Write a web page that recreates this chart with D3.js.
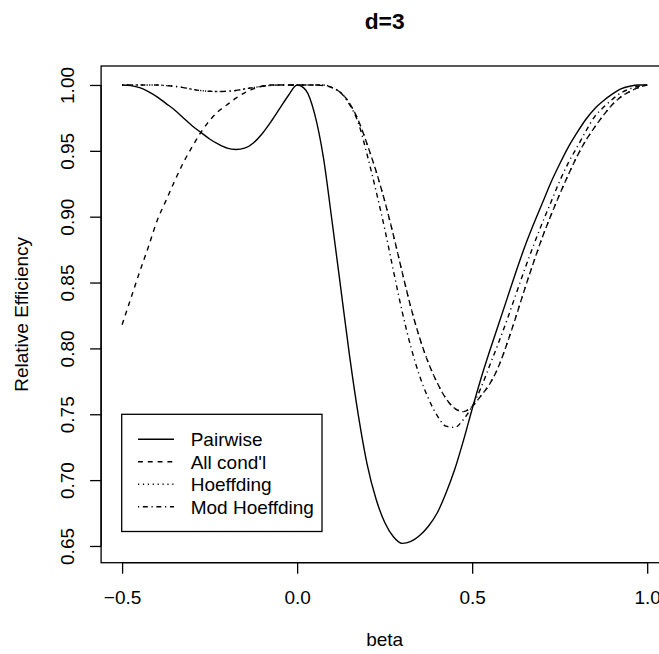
<!DOCTYPE html>
<html>
<head>
<meta charset="utf-8">
<script src="https://cdn.jsdelivr.net/npm/d3@7"></script>
<style>
  html, body { margin: 0; padding: 0; background: #fff; }
  svg { display: block; }
  text { font-family: "Liberation Sans", Arial, Helvetica, sans-serif; fill: #000; }
</style>
</head>
<body>
<svg id="chart" width="659" height="654"></svg>
<script>
// ---------------- data ----------------
const beta = [-0.5,-0.475,-0.45,-0.425,-0.4,-0.375,-0.35,-0.325,-0.3,-0.275,-0.25,-0.225,-0.2,-0.175,-0.15,-0.125,-0.1,-0.075,-0.05,-0.025,
  0,0.025,0.05,0.075,0.1,0.125,0.15,0.175,0.2,0.225,0.25,0.275,0.3,0.325,0.35,0.375,0.4,0.425,0.45,0.475,
  0.5,0.525,0.55,0.575,0.6,0.625,0.65,0.675,0.7,0.725,0.75,0.775,0.8,0.825,0.85,0.875,0.9,0.925,0.95,0.975,1.0];

const pairwise = [1.000,0.9995,0.998,0.995,0.991,0.986,0.981,0.975,0.969,0.964,0.959,0.955,0.952,0.951,0.952,0.956,0.963,0.972,0.982,0.992,
  1.000,0.996,0.978,0.945,0.896,0.845,0.794,0.749,0.712,0.686,0.668,0.657,0.652,0.6535,0.658,0.665,0.675,0.690,0.708,0.730,
  0.754,0.777,0.798,0.818,0.838,0.858,0.877,0.894,0.910,0.926,0.940,0.953,0.964,0.974,0.982,0.988,0.993,0.997,0.999,1.000,1.000];

const allCond = [0.818,0.838,0.858,0.877,0.897,0.912,0.927,0.941,0.953,0.964,0.973,0.980,0.985,0.990,0.994,0.997,0.999,1.000,1.000,1.000,
  1.000,1.000,1.000,0.9995,0.998,0.994,0.986,0.973,0.955,0.935,0.912,0.886,0.858,0.831,0.808,0.789,0.774,0.762,0.7545,0.752,
  0.756,0.764,0.773,0.786,0.804,0.824,0.845,0.865,0.884,0.901,0.917,0.932,0.946,0.958,0.968,0.977,0.985,0.991,0.995,0.998,1.000];

const hoeffding = [1.000,1.000,1.000,1.000,1.000,0.9995,0.999,0.998,0.9967,0.9957,0.9952,0.995,0.9952,0.9958,0.997,0.998,0.999,0.9997,1.000,1.000,
  1.000,1.000,1.000,1.000,0.998,0.994,0.986,0.973,0.955,0.935,0.912,0.886,0.858,0.831,0.808,0.789,0.774,0.762,0.7545,0.752,
  0.756,0.764,0.773,0.786,0.804,0.824,0.845,0.865,0.884,0.901,0.917,0.932,0.946,0.958,0.968,0.977,0.985,0.991,0.995,0.998,1.000];

const modHoeffding = [1.000,1.000,1.000,1.000,1.000,0.9995,0.999,0.998,0.9967,0.9957,0.9952,0.995,0.9952,0.9958,0.997,0.998,0.999,0.9997,1.000,1.000,
  1.000,1.000,1.000,1.000,0.998,0.994,0.985,0.971,0.947,0.920,0.891,0.859,0.828,0.801,0.779,0.762,0.749,0.741,0.740,0.746,
  0.756,0.770,0.787,0.804,0.822,0.841,0.860,0.878,0.895,0.911,0.927,0.941,0.953,0.965,0.976,0.983,0.989,0.994,0.997,0.999,1.000];

const seriesNames = ["Pairwise", "All cond'l", "Hoeffding", "Mod Hoeffding"];
const xTicks = [-0.5, 0.0, 0.5, 1.0];
const xTickLabels = ["\u22120.5", "0.0", "0.5", "1.0"];
const yTicks = [0.65, 0.70, 0.75, 0.80, 0.85, 0.90, 0.95, 1.00];
const yTickLabels = ["0.65", "0.70", "0.75", "0.80", "0.85", "0.90", "0.95", "1.00"];
const titleText = "d=3";
const xLabel = "beta";
const yLabel = "Relative Efficiency";

// ---------------- layout ----------------
const svg = d3.select("#chart");
const W = 659, H = 654;
const plot = { left: 101.1, right: 668.2, top: 66, bottom: 562.7 };
const FS = 19;

svg.append("rect").attr("width", W).attr("height", H).attr("fill", "#fff");

const x = d3.scaleLinear().domain([-0.56, 1.06]).range([plot.left, plot.right]);
const y = d3.scaleLinear().domain([0.6373, 1.0144]).range([plot.bottom, plot.top]);

const styles = [
  { dash: null },
  { dash: "4.9,4.9" },
  { dash: "1.2,3.7" },
  { dash: "1.2,3.7,4.9,3.7" }
];
const seriesData = [pairwise, allCond, hoeffding, modHoeffding];

svg.append("defs").append("clipPath").attr("id", "clip")
  .append("rect").attr("x", plot.left).attr("y", plot.top)
  .attr("width", plot.right - plot.left).attr("height", plot.bottom - plot.top);

const line = d3.line()
  .x(d => x(d[0]))
  .y(d => y(d[1]))
  .curve(d3.curveMonotoneX);

const gLines = svg.append("g").attr("clip-path", "url(#clip)");
seriesData.forEach((vals, i) => {
  const pts = beta.map((b, j) => [b, vals[j]]);
  gLines.append("path")
    .attr("d", line(pts))
    .attr("fill", "none")
    .attr("stroke", "#000")
    .attr("stroke-width", 1.4)
    .attr("stroke-dasharray", styles[i].dash)
    .attr("stroke-linecap", "butt");
});

// box
svg.append("rect")
  .attr("x", plot.left).attr("y", plot.top)
  .attr("width", plot.right - plot.left).attr("height", plot.bottom - plot.top)
  .attr("fill", "none").attr("stroke", "#000").attr("stroke-width", 1.3);

// x axis
const xAxis = d3.axisBottom(x).tickValues(xTicks).tickSize(11).tickSizeOuter(0)
  .tickFormat((d, i) => xTickLabels[i]);
const gx = svg.append("g").attr("transform", `translate(0,${plot.bottom})`).call(xAxis);
gx.select(".domain").remove();
gx.selectAll(".tick line").attr("stroke", "#000").attr("stroke-width", 1.3);
gx.selectAll(".tick text")
  .attr("y", 604 - plot.bottom).attr("dy", null)
  .style("font-size", FS + "px").style("font-family", "Liberation Sans, Arial, sans-serif")
  .attr("fill", "#000");

// y axis
const yAxis = d3.axisLeft(y).tickValues(yTicks).tickSize(11).tickSizeOuter(0)
  .tickFormat((d, i) => yTickLabels[i]);
const gy = svg.append("g").attr("transform", `translate(${plot.left},0)`).call(yAxis);
gy.select(".domain").remove();
gy.selectAll(".tick line").attr("stroke", "#000").attr("stroke-width", 1.3);
gy.selectAll(".tick text")
  .attr("x", 0).attr("dy", null)
  .attr("y", -(plot.left - 74))
  .attr("transform", "rotate(-90)")
  .attr("text-anchor", "middle")
  .style("font-size", FS + "px").style("font-family", "Liberation Sans, Arial, sans-serif")
  .attr("fill", "#000");

// axis lines (from first to last tick)
svg.append("line").attr("x1", x(xTicks[0])).attr("x2", x(xTicks[xTicks.length - 1]))
  .attr("y1", plot.bottom).attr("y2", plot.bottom).attr("stroke", "#000").attr("stroke-width", 1.3);
svg.append("line").attr("y1", y(yTicks[0])).attr("y2", y(yTicks[yTicks.length - 1]))
  .attr("x1", plot.left).attr("x2", plot.left).attr("stroke", "#000").attr("stroke-width", 1.3);

// labels
const cx = (plot.left + plot.right) / 2;
svg.append("text").attr("x", cx).attr("y", 28.5).attr("text-anchor", "middle")
  .style("font-size", "22.8px").style("font-weight", "bold").text(titleText);
svg.append("text").attr("x", cx).attr("y", 646).attr("text-anchor", "middle")
  .style("font-size", FS + "px").text(xLabel);
svg.append("text")
  .attr("transform", `translate(28,${(plot.top + plot.bottom) / 2}) rotate(-90)`)
  .attr("text-anchor", "middle").style("font-size", FS + "px").text(yLabel);

// legend
const lg = { x: 121.7, y: 414.3, w: 200.3, h: 117.2, row0: 439.2, step: 22.5, lx1: 138, lx2: 174, tx: 190.7 };
svg.append("rect").attr("x", lg.x).attr("y", lg.y).attr("width", lg.w).attr("height", lg.h)
  .attr("fill", "#fff").attr("stroke", "#000").attr("stroke-width", 1.3);
seriesNames.forEach((name, i) => {
  const yy = lg.row0 + i * lg.step;
  svg.append("line").attr("x1", lg.lx1).attr("x2", lg.lx2).attr("y1", yy).attr("y2", yy)
    .attr("stroke", "#000").attr("stroke-width", 1.4)
    .attr("stroke-dasharray", styles[i].dash);
  svg.append("text").attr("x", lg.tx).attr("y", yy + 6.8)
    .style("font-size", FS + "px").text(name);
});
</script>
</body>
</html>
